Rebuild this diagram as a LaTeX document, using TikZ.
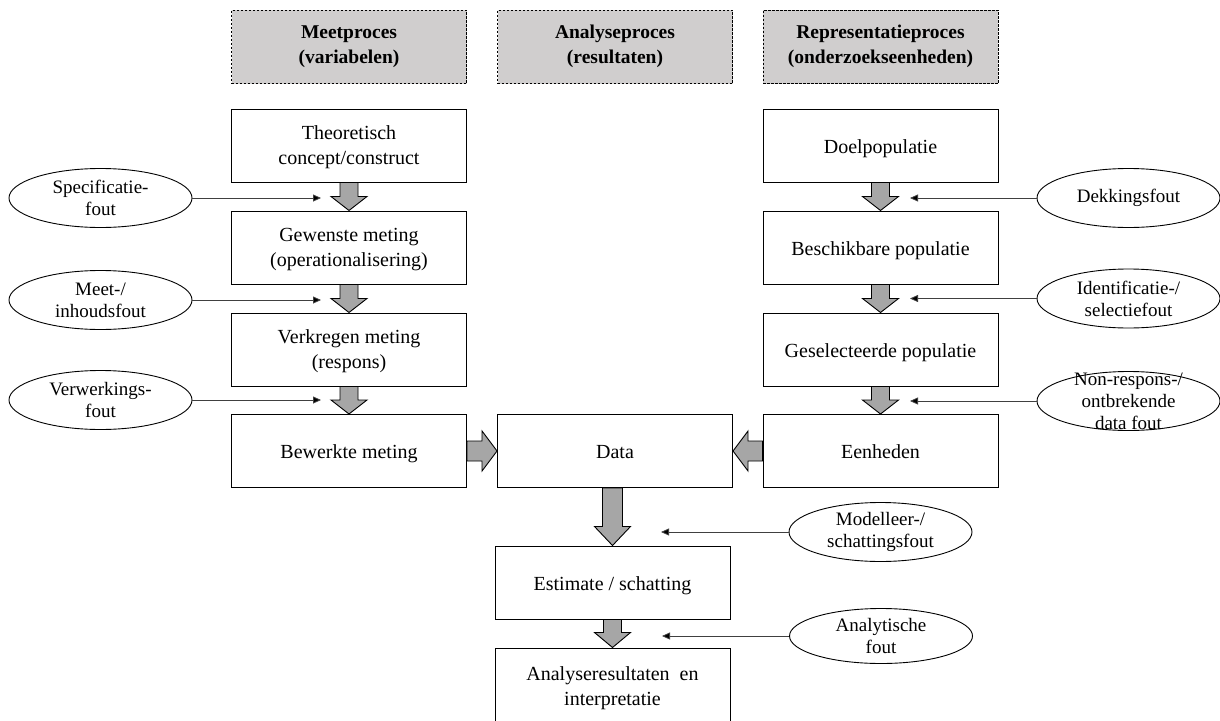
\documentclass[tikz,border=0pt]{standalone}
\usepackage{fontspec}
\setmainfont{Liberation Serif}
\usetikzlibrary{calc,arrows.meta,shapes.geometric}
\definecolor{hdrfill}{RGB}{208,206,206}
\definecolor{arrfill}{RGB}{166,166,166}
\newcommand\blockarr[5]{%
  \coordinate (ba-h) at ($(#2)!#5!(#1)$);
  \draw[barrow] ($(#1)!#3!90:(#2)$) -- ($(ba-h)!#3!90:(#2)$) -- ($(ba-h)!#4!90:(#2)$) -- (#2)
    -- ($(ba-h)!#4!-90:(#2)$) -- ($(ba-h)!#3!-90:(#2)$) -- ($(#1)!#3!-90:(#2)$) -- cycle;}
\begin{document}
\begin{tikzpicture}[x=1pt,y=-1pt,
  hdr/.style={draw, dash pattern=on 2.5pt off 1.5pt, line width=0.8pt, fill=hdrfill,
    minimum width=235, minimum height=73.5, inner sep=0pt, align=center,
    font=\fontsize{19.5}{25}\selectfont\bfseries},
  stepbox/.style={draw, line width=1pt, fill=white, minimum width=235, minimum height=73,
    inner sep=0pt, align=center, font=\fontsize{20}{25}\selectfont},
  oneline/.style={stepbox, text height=15pt, text depth=0pt},
  twoline/.style={stepbox, text depth=-3pt},
  errell/.style={draw, ellipse, line width=0.9pt, minimum width=183, minimum height=59, inner sep=0pt},
  errtext/.style={align=center, inner sep=0pt, font=\fontsize{19}{22}\selectfont},
  errarrow/.style={draw=black!75, line width=0.8pt, -{Triangle[length=8pt,width=7pt,fill=black]}},
  barrow/.style={draw=black, line width=0.9pt, fill=arrfill, line join=miter}
]
\useasboundingbox (0,0) rectangle (1220,720);
\fill[white] (0,0) rectangle (1220,720);

% headers
\node[hdr] (h1) at (349,46.75) {Meetproces\\(variabelen)};
\node[hdr] (h2) at (615,46.75) {Analyseproces\\(resultaten)};
\node[hdr] (h3) at (880.5,46.75) {Representatieproces\\(onderzoekseenheden)};

% left column
\node[twoline] (b1) at (349,145.5) {Theoretisch\\concept/construct};
\node[twoline] (b2) at (349,247.5) {Gewenste meting\\(operationalisering)};
\node[twoline] (b3) at (349,349.5) {Verkregen meting\\(respons)};
\node[oneline] (b4) at (349,451) {Bewerkte meting};

% middle column
\node[oneline] (data) at (615,451) {Data};
\node[oneline] (est) at (612.5,582.5) {Estimate / schatting};
\node[twoline, minimum height=76] (res) at (612.5,686) {Analyseresultaten\ \ en\\interpretatie};

% right column
\node[oneline] (r1) at (880.5,145.5) {Doelpopulatie};
\node[oneline] (r2) at (880.5,247.5) {Beschikbare populatie};
\node[oneline] (r3) at (880.5,349.5) {Geselecteerde populatie};
\node[oneline] (r4) at (880.5,451) {Eenheden};

% block arrows
\blockarr{b1.south}{b2.north}{9pt}{18pt}{14pt}
\blockarr{b2.south}{b3.north}{9pt}{18pt}{14pt}
\blockarr{b3.south}{b4.north}{9pt}{18pt}{14pt}
\blockarr{r1.south}{r2.north}{9pt}{18pt}{14pt}
\blockarr{r2.south}{r3.north}{9pt}{18pt}{14pt}
\blockarr{r3.south}{r4.north}{9pt}{18pt}{14pt}
\blockarr{b4.east}{data.west}{10pt}{20pt}{15pt}
\blockarr{r4.west}{data.east}{10pt}{20pt}{15pt}
\coordinate (dtop) at (est.north |- data.south);
\blockarr{dtop}{est.north}{10pt}{18pt}{19pt}
\blockarr{est.south}{res.north}{9pt}{18pt}{15pt}

% error ellipses left
\node[errell] (e1) at (100.5,198) {};
\node[errtext] at (e1) {Specificatie-\\fout};
\node[errell] (e2) at (100.5,300) {};
\node[errtext] at (e2) {Meet-/\\inhoudsfout};
\node[errell] (e3) at (100.5,400) {};
\node[errtext] at (e3) {Verwerkings-\\fout};

% error ellipses right
\node[errell] (e4) at (1128.5,198) {};
\node[errtext] at (e4) {Dekkingsfout};
\node[errell] (e5) at (1128.5,298.5) {};
\node[errtext] at (e5) {Identificatie-/\\selectiefout};
\node[errell] (e6) at (1128.5,401) {};
\node[errtext] at (e6) {Non-respons-/\\ontbrekende\\data fout};
\node[errell] (e7) at (880.5,532) {};
\node[errtext] at (e7) {Modelleer-/\\schattingsfout};
\node[errell, minimum height=55] (e8) at (881,636) {};
\node[errtext] at (e8) {Analytische\\fout};

% tips of error arrows
\coordinate (t1) at (321,198);
\coordinate (t2) at (321,300);
\coordinate (t3) at (321,400);
\coordinate (t4) at (910,198);
\coordinate (t5) at (910,298.5);
\coordinate (t6) at (910,401);
\coordinate (t7) at (661,532);
\coordinate (t8) at (662,636);

\draw[errarrow] (e1) -- (t1);
\draw[errarrow] (e2) -- (t2);
\draw[errarrow] (e3) -- (t3);
\draw[errarrow] (e4) -- (t4);
\draw[errarrow] (e5) -- (t5);
\draw[errarrow] (e6) -- (t6);
\draw[errarrow] (e7) -- (t7);
\draw[errarrow] (e8) -- (t8);
\end{tikzpicture}
\end{document}
